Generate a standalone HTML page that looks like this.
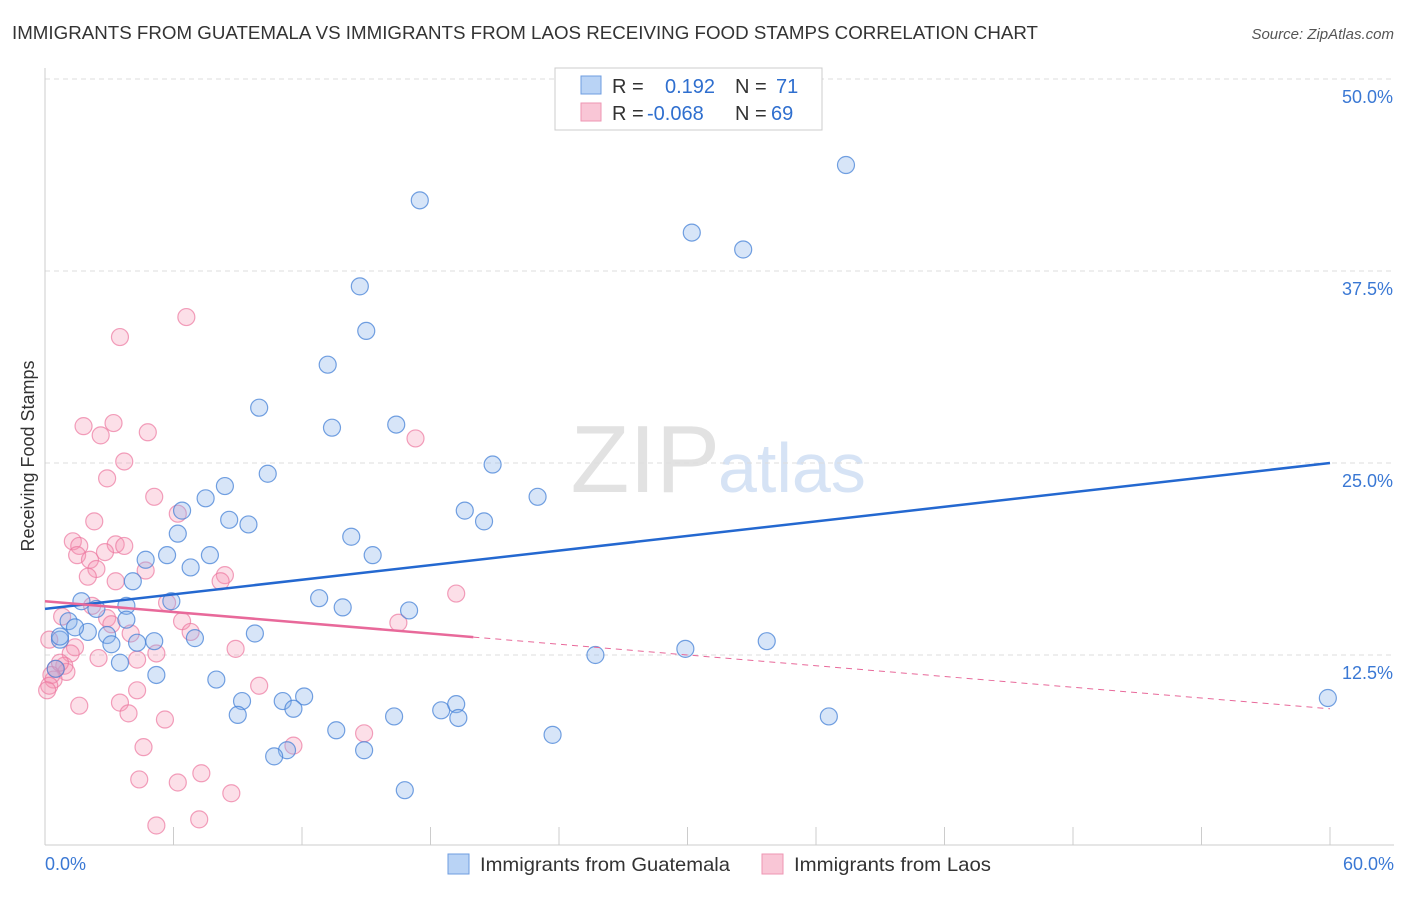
<!DOCTYPE html>
<html><head><meta charset="utf-8">
<style>
body{margin:0;background:#fff;font-family:"Liberation Sans",sans-serif;}
svg text{font-family:"Liberation Sans",sans-serif;}
</style></head>
<body>
<svg id="chart" width="1406" height="892" viewBox="0 0 1406 892" xmlns="http://www.w3.org/2000/svg">
<text x="12" y="39" font-size="18.5" fill="#333" textLength="1026" lengthAdjust="spacingAndGlyphs">IMMIGRANTS FROM GUATEMALA VS IMMIGRANTS FROM LAOS RECEIVING FOOD STAMPS CORRELATION CHART</text>
<text x="1394" y="39" font-size="15" fill="#555" font-style="italic" text-anchor="end">Source: ZipAtlas.com</text>
<text x="720" y="492" font-size="96" fill="#e2e2e2" font-family="Liberation Serif" text-anchor="end">ZIP</text>
<text x="718" y="492" font-size="70" fill="#d6e3f5">atlas</text>
<text transform="translate(34,456) rotate(-90)" font-size="18" fill="#333" text-anchor="middle">Receiving Food Stamps</text>
<g id="grid"></g><g id="pts"></g><g id="lines"></g>
<g>
<rect x="555" y="68" width="267" height="62" fill="#fff" stroke="#ccc"/>
<rect x="581" y="76" width="20" height="18" fill="#b9d3f5" stroke="#6e9de0"/>
<rect x="581" y="103" width="20" height="18" fill="#f9c6d6" stroke="#ee96b3"/>
<text x="612" y="93" font-size="20" fill="#333">R = <tspan fill="#2f6fcf" x="665">0.192</tspan><tspan fill="#333" x="735">N = </tspan><tspan fill="#2f6fcf" x="776">71</tspan></text>
<text x="612" y="120" font-size="20" fill="#333">R = <tspan fill="#2f6fcf" x="647">-0.068</tspan><tspan fill="#333" x="735">N = </tspan><tspan fill="#2f6fcf" x="771">69</tspan></text>
</g>
<g>
<rect x="448" y="854" width="21" height="20" fill="#b9d3f5" stroke="#6e9de0"/>
<text x="480" y="871" font-size="19.5" fill="#333" textLength="250" lengthAdjust="spacingAndGlyphs">Immigrants from Guatemala</text>
<rect x="762" y="854" width="21" height="20" fill="#f9c6d6" stroke="#ee96b3"/>
<text x="794" y="871" font-size="19.5" fill="#333" textLength="197" lengthAdjust="spacingAndGlyphs">Immigrants from Laos</text>
</g>
</svg>
<script>
const xTicksPct=[0,6,12,18,24,30,36,42,48,54,60];
const yTicks=[12.5,25,37.5,50];
const yTickLabels=["12.5%","25.0%","37.5%","50.0%"];
const xEndLabels=["0.0%","60.0%"];
const blueX=[37.4,17.5,30.2,32.6,14.7,15.0,13.2,10.0,13.4,16.4,20.9,10.4,8.4,23.0,7.5,19.6,20.5,8.6,9.5,6.4,6.2,14.3,15.3,5.7,7.7,4.7,6.8,4.1,5.9,12.8,1.7,3.8,2.4,13.9,17.0,1.1,3.8,2.0,2.9,1.4,0.7,4.3,5.1,7.0,9.8,3.1,33.7,29.9,25.7,3.5,5.2,8.0,9.2,11.1,12.1,11.6,9.0,18.5,19.2,19.3,16.3,36.6,59.9,13.6,23.7,14.9,11.3,10.7,16.8,0.7,0.5];
const blueY=[44.4,42.1,40.0,38.9,36.5,33.6,31.4,28.6,27.3,27.5,24.9,24.3,23.5,22.8,22.7,21.9,21.2,21.3,21.0,21.9,20.4,20.2,19.0,19.0,19.0,18.7,18.2,17.3,16.0,16.2,16.0,15.7,15.5,15.6,15.4,14.7,14.8,14.0,13.8,14.3,13.5,13.3,13.4,13.6,13.9,13.2,13.4,12.9,12.5,12.0,11.2,10.9,9.5,9.5,9.8,9.0,8.6,8.9,9.3,8.4,8.5,8.5,9.7,7.6,7.3,6.3,6.3,5.9,3.7,13.7,11.6];
const pinkX=[6.6,3.5,1.8,3.2,2.6,4.8,3.7,17.3,2.9,5.1,6.2,2.3,1.3,1.6,1.5,2.1,3.3,3.7,2.8,4.7,2.4,2.0,3.3,8.4,8.2,19.2,5.7,2.2,6.4,2.9,3.1,16.5,0.8,6.8,1.4,4.0,8.9,2.5,1.2,5.2,4.3,0.9,1.0,0.5,0.4,0.3,0.2,0.1,4.3,10.0,3.5,1.6,3.9,5.6,14.9,4.6,11.6,7.3,4.4,6.2,8.7,7.2,5.2,0.2,0.7];
const pinkY=[34.5,33.2,27.4,27.6,26.8,27.0,25.1,26.6,24.0,22.8,21.7,21.2,19.9,19.6,19.0,18.7,19.7,19.6,19.2,18.0,18.1,17.6,17.3,17.7,17.3,16.5,15.9,15.7,14.7,14.9,14.5,14.6,15.0,14.0,13.0,13.9,12.9,12.3,12.6,12.6,12.2,11.8,11.4,11.6,10.9,11.2,10.5,10.2,10.2,10.5,9.4,9.2,8.7,8.3,7.4,6.5,6.6,4.8,4.4,4.2,3.5,1.8,1.4,13.5,12.0];
const blueTrend=[15.5,25.0];
const pinkTrend=[16.0,9.0];
const pinkSolidEnd=20;

const NS="http://www.w3.org/2000/svg";
const X0=45,X1=1330,Y0=847;
const xs=v=>X0+(v/60)*(X1-X0);
const ys=v=>Y0-v*15.36;
function mk(tag,attrs,parent){const e=document.createElementNS(NS,tag);for(const k in attrs)e.setAttribute(k,attrs[k]);parent.appendChild(e);return e;}
const grid=document.getElementById('grid');
yTicks.forEach((t,i)=>{
  const l=mk('line',{x1:X0,x2:1394,y1:ys(t),y2:ys(t),stroke:'#ddd','stroke-dasharray':'5,4'},grid);
  
  
  const tx=mk('text',{x:1393,y:ys(t)+24,'font-size':18,fill:'#3a78d4','text-anchor':'end'},grid);
  tx.textContent=yTickLabels[i];
  
  
});
const ax=mk('line',{x1:X0,x2:1394,y1:Y0-2,y2:Y0-2,stroke:'#ccc'},grid);


const ay=mk('line',{x1:X0,x2:X0,y1:68,y2:Y0-2,stroke:'#ccc'},grid);


xTicksPct.forEach(t=>{
  const l=mk('line',{x1:xs(t),x2:xs(t),y1:Y0-2,y2:Y0-20,stroke:'#ccc'},grid);
  
  
});
[[0,45,'start'],[1,1394,'end']].forEach(([i,x,a])=>{
  const t=mk('text',{x:x,y:870,'font-size':18,fill:'#3a78d4','text-anchor':a},grid);
  t.textContent=xEndLabels[i];
  
  
});
const pts=document.getElementById('pts');
pinkX.forEach((x,i)=>{
  const c=mk('circle',{cx:xs(x),cy:ys(pinkY[i]),r:8.5,fill:'rgba(244,150,180,0.3)',stroke:'rgba(236,120,160,0.7)','stroke-width':1.2},pts);
  
  
});
blueX.forEach((x,i)=>{
  const c=mk('circle',{cx:xs(x),cy:ys(blueY[i]),r:8.5,fill:'rgba(140,180,235,0.35)',stroke:'rgba(70,130,215,0.75)','stroke-width':1.2},pts);
  
  
});
const lines=document.getElementById('lines');
const bl=mk('line',{x1:xs(0),y1:ys(blueTrend[0]),x2:xs(60),y2:ys(blueTrend[1]),stroke:'#2468d0','stroke-width':2.5},lines);


const pm=pinkTrend[0]+(pinkTrend[1]-pinkTrend[0])*pinkSolidEnd/60;
const pl=mk('line',{x1:xs(0),y1:ys(pinkTrend[0]),x2:xs(pinkSolidEnd),y2:ys(pm),stroke:'#e8699a','stroke-width':2.5},lines);


const pd=mk('line',{x1:xs(pinkSolidEnd),y1:ys(pm),x2:xs(60),y2:ys(pinkTrend[1]),stroke:'#e8699a','stroke-width':1,'stroke-dasharray':'6,5'},lines);


</script>
</body></html>
